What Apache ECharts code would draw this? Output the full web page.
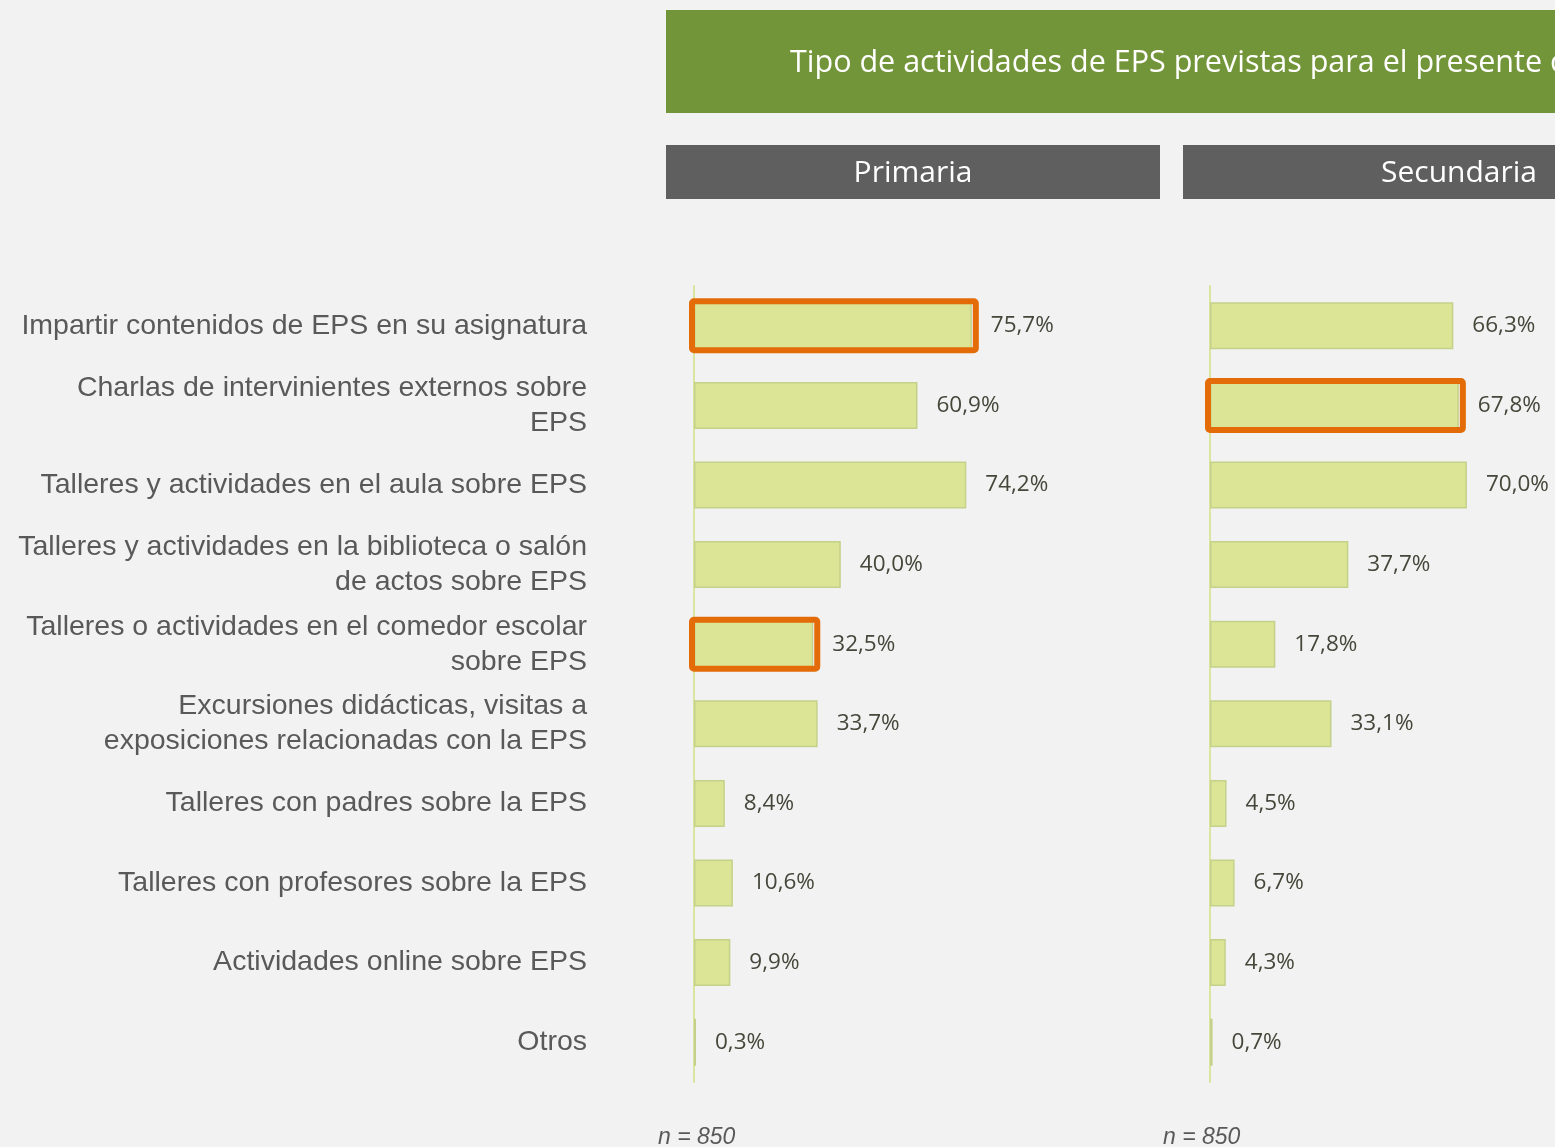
<!DOCTYPE html>
<html lang="es">
<head>
    <meta charset="UTF-8">
    <title>Tipo de actividades de EPS</title>
    <script src="https://cdn.jsdelivr.net/npm/echarts@6/dist/echarts.min.js"></script>
    <style>
        body { margin: 0; padding: 0; background-color: #f2f2f2; }
        #chart { width: 1555px; height: 1147px; }
    </style>
</head>
<body>
<div id="chart"></div>
<script>
// categorias (de arriba abajo)
const categorias = [
    'Impartir contenidos de EPS en su asignatura',
    'Charlas de intervinientes externos sobre\nEPS',
    'Talleres y actividades en el aula sobre EPS',
    'Talleres y actividades en la biblioteca o salón\nde actos sobre EPS',
    'Talleres o actividades en el comedor escolar\nsobre EPS',
    'Excursiones didácticas, visitas a\nexposiciones relacionadas con la EPS',
    'Talleres con padres sobre la EPS',
    'Talleres con profesores sobre la EPS',
    'Actividades online sobre EPS',
    'Otros'
];
const primaria = [75.7, 60.9, 74.2, 40.0, 32.5, 33.7, 8.4, 10.6, 9.9, 0.3];
const secundaria = [66.3, 67.8, 70.0, 37.7, 17.8, 33.1, 4.5, 6.7, 4.3, 0.7];
// filas destacadas con recuadro naranja
const destacadoPrimaria = [0, 4];
const destacadoSecundaria = [1];

const titulo = 'Tipo de actividades de EPS previstas para el presente curso';
const muestra = 'n = 850';

const chart = echarts.init(document.getElementById('chart'));

function pct(v) {
    return v.toFixed(1).replace('.', ',') + '%';
}

const gridTop = 286, gridBottom = 1147 - 1082;

const serieBase = {
    type: 'bar',
    barWidth: 47,
    barMinHeight: 2,
    itemStyle: { color: '#dce595', borderColor: '#c4d18a', borderWidth: 1.5 },
    label: {
        show: true,
        position: 'right',
        distance: 19,
        formatter: p => pct(p.value),
        fontFamily: 'Open Sans',
        fontSize: 22.5,
        color: '#44473a'
    },
    silent: true
};

// recuadro naranja alrededor de la barra destacada
function recuadro(valores, destacados, eje) {
    return {
        type: 'custom',
        xAxisIndex: eje,
        yAxisIndex: eje,
        silent: true,
        z: 5,
        data: destacados.map(i => [valores[i], i]),
        encode: { x: 0, y: 1 },
        renderItem: function (params, api) {
            const fin = api.coord([api.value(0), api.value(1)]);
            const ini = api.coord([0, api.value(1)]);
            const alto = api.size([0, 1])[1] * 0.59;
            const pad = 3;
            return {
                type: 'rect',
                shape: {
                    x: ini[0] - pad + 1,
                    y: fin[1] - alto / 2 - 1,
                    width: fin[0] - ini[0] + pad * 2,
                    height: alto + 2,
                    r: 2
                },
                style: { fill: 'none', stroke: '#e36c09', lineWidth: 6 }
            };
        }
    };
}

const ejeY = {
    type: 'category',
    data: categorias,
    inverse: true,
    axisLine: { show: true, lineStyle: { color: '#dbe5a0', width: 2 } },
    axisTick: { show: false }
};

chart.setOption({
    backgroundColor: '#f2f2f2',
    animation: false,
    grid: [
        { left: 694, top: gridTop, width: 367, bottom: gridBottom },
        // el panel de secundaria queda cortado por el borde derecho
        { left: 1210, top: gridTop, right: 0, bottom: gridBottom }
    ],
    xAxis: [
        { gridIndex: 0, type: 'value', min: 0, max: 100, show: false },
        { gridIndex: 1, type: 'value', min: 0, max: 94, show: false }
    ],
    yAxis: [
        Object.assign({}, ejeY, {
            gridIndex: 0,
            axisLabel: {
                margin: 107,
                align: 'right',
                fontFamily: 'Liberation Sans',
                fontSize: 28.5,
                lineHeight: 35,
                color: '#595959'
            }
        }),
        Object.assign({}, ejeY, { gridIndex: 1, axisLabel: { show: false } })
    ],
    series: [
        Object.assign({}, serieBase, { xAxisIndex: 0, yAxisIndex: 0, data: primaria }),
        Object.assign({}, serieBase, { xAxisIndex: 1, yAxisIndex: 1, data: secundaria }),
        recuadro(primaria, destacadoPrimaria, 0),
        recuadro(secundaria, destacadoSecundaria, 1)
    ],
    graphic: [
        { type: 'rect', shape: { x: 666, y: 10, width: 1000, height: 103 }, style: { fill: '#739539' } },
        { type: 'text', x: 790, y: 63, style: { text: titulo, fill: '#ffffff', font: '30.5px "Open Sans"', verticalAlign: 'middle' } },
        { type: 'rect', shape: { x: 666, y: 145, width: 494, height: 54 }, style: { fill: '#5f5f5f' } },
        { type: 'text', x: 913, y: 173, style: { text: 'Primaria', fill: '#ffffff', font: '30px "Open Sans"', align: 'center', verticalAlign: 'middle' } },
        { type: 'rect', shape: { x: 1183, y: 145, width: 494, height: 54 }, style: { fill: '#5f5f5f' } },
        { type: 'text', x: 1459, y: 173, style: { text: 'Secundaria', fill: '#ffffff', font: '30px "Open Sans"', align: 'center', verticalAlign: 'middle' } },
        { type: 'text', x: 658, y: 1138, style: { text: muestra, fill: '#595959', font: 'italic 23px "Liberation Sans"', verticalAlign: 'middle' } },
        { type: 'text', x: 1163, y: 1138, style: { text: muestra, fill: '#595959', font: 'italic 23px "Liberation Sans"', verticalAlign: 'middle' } }
    ]
});
</script>
</body>
</html>
